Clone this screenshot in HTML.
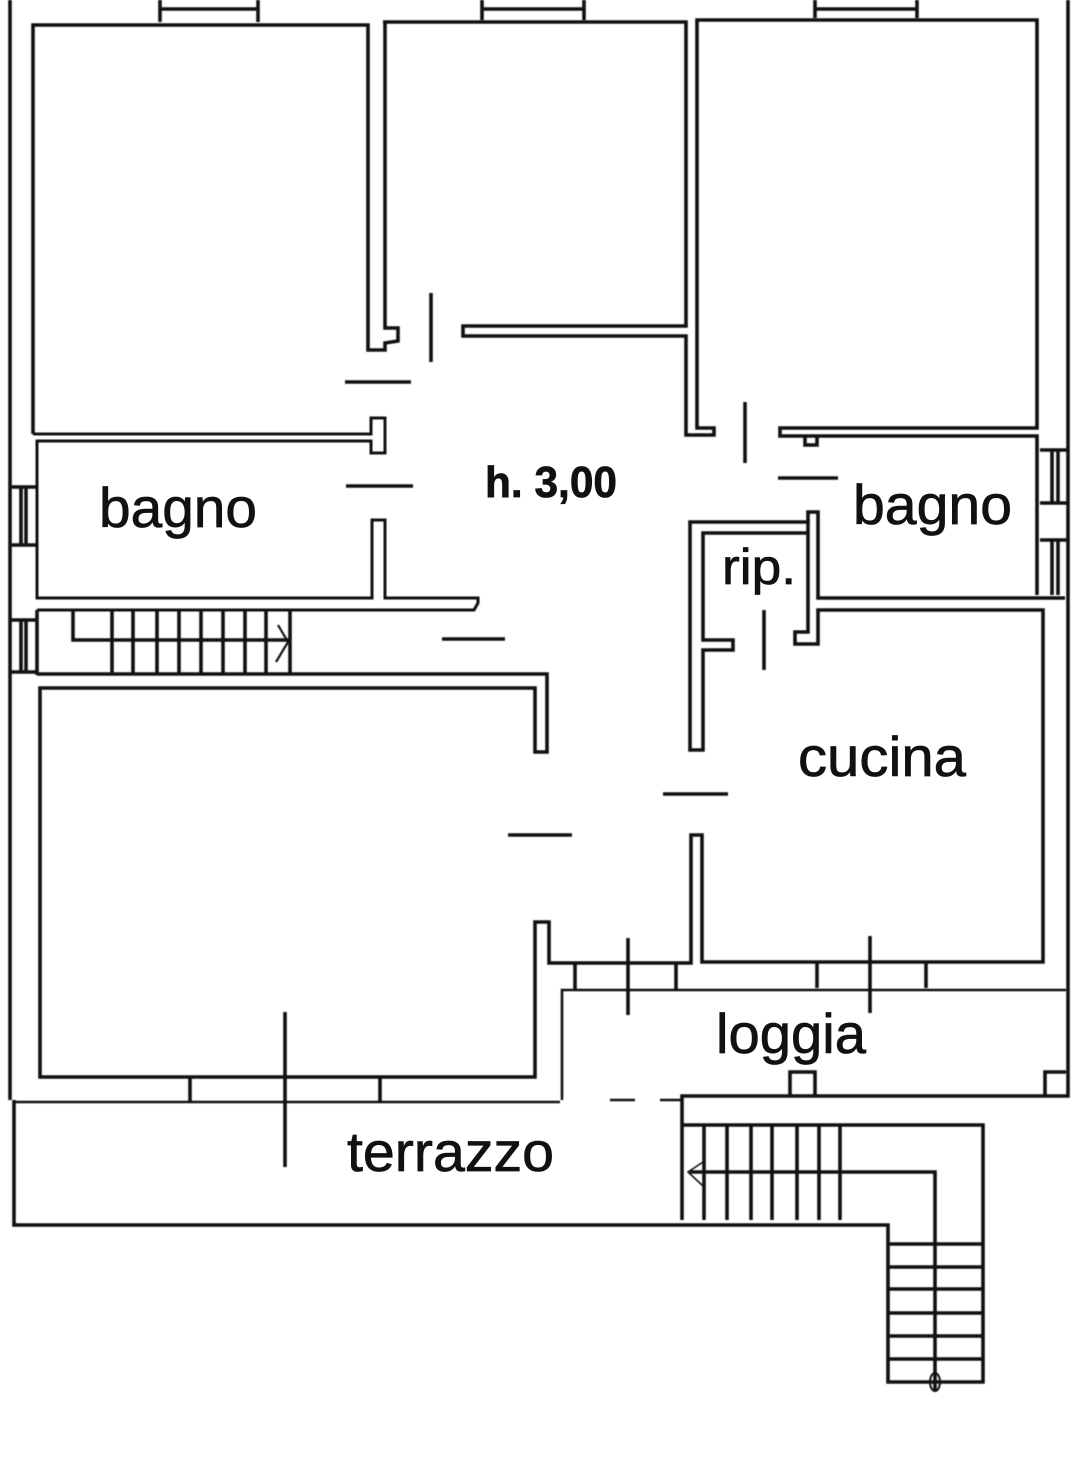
<!DOCTYPE html>
<html lang="it"><head><meta charset="utf-8"><title>Planimetria</title>
<style>
html,body{margin:0;padding:0;background:#fff;width:1072px;height:1476px;overflow:hidden}
svg{display:block}
text{font-family:"Liberation Sans",sans-serif;fill:#111;stroke:#111;stroke-width:.7px}
</style></head><body>
<svg width="1072" height="1476" viewBox="0 0 1072 1476" xmlns="http://www.w3.org/2000/svg">
<rect width="1072" height="1476" fill="#fff"/>
<g fill="none" stroke="#111" stroke-width="3.6" stroke-linejoin="miter" style="filter:blur(.5px)">
<!-- outer -->
<path d="M10 0V1100M14 1100V1225H888V1382H983V1125H682M1068 0V1096H682V1220M160 0V22M258 0V22M482 0V20M584 0V20M815 0V18M917 0V18M160 9H258M482 9H584M815 9H917"/>
<!-- room 1 -->
<path d="M33 434V25H368V350H385V343L398 341V328H385V22"/>
<path d="M33 434H371V418H385V453H371V441H37V598H372V520H385V598H478V603L474 610H37" stroke-width="3"/>
<!-- room 2/3 -->
<path d="M383 22H686V326H463V336H686V435H714V428H697V20H1037V428H780V436H1037V595M805 437V445H817V437"/>
<!-- left windows -->
<path d="M10 487H37M10 545H37M21 487V545M26 487V545M10 620H37M10 672H37M21 620V672M26 620V672"/>
<!-- upper stairs -->
<path d="M37 610V675M73 610V640H290M112 610V673M133 610V673M157 610V673M179 610V673M201 610V673M223 610V673M245 610V673M266 610V673M290 610V673M37 674H547V752H535V688H40V1077H535V922H549V963H691V835H702V962H1043V610H818V644H795V632H808V522H690V750H703V650H733V640H703V533H808"/>
<path d="M808 522V512H818V598H1065"/>
<path d="M278 625L288 642L276 662" stroke-width="2.2"/>
<!-- right windows -->
<path d="M1040 450H1068M1040 503H1068M1052 450V503M1058 450V503M1040 540H1068M1052 540V595M1058 540V595"/>
<!-- window ticks and loggia -->
<path d="M575 963V990M676 963V990M817 963V988M926 963V988M190 1077V1102M380 1077V1102"/>
<path d="M562 1100V990H1066M14 1102H560M610 1100H635M660 1100H682" stroke-width="2.6"/>
<path d="M790 1096V1072H815V1096M1045 1096V1072H1066"/>
<!-- door swings -->
<path d="M345 382H411M346 486H413M431 293V362M745 402V463M778 478H838M442 639H505M663 794H728M508 835H572M764 610V670M628 938V1015M870 936V1013M285 1012V1167"/>
<!-- lower stairs -->
<path d="M704 1125V1220M727 1125V1220M751 1125V1220M772 1125V1220M797 1125V1220M819 1125V1220M840 1125V1220"/>
<path d="M888 1244H983M888 1267H983M888 1289H983M888 1313H983M888 1336H983M888 1359H983"/>
<path d="M690 1172H935V1390"/>
<path d="M703 1162L688 1172L703 1186" stroke-width="1.6"/>
<ellipse cx="935" cy="1382" rx="5" ry="9" stroke-width="2"/>
</g>
<text x="99" y="527" font-size="56" textLength="158" lengthAdjust="spacingAndGlyphs">bagno</text>
<text x="853" y="524" font-size="56" textLength="159" lengthAdjust="spacingAndGlyphs">bagno</text>
<text x="485" y="497" font-size="44" font-weight="bold" textLength="132" lengthAdjust="spacingAndGlyphs">h. 3,00</text>
<text x="722" y="584" font-size="50" textLength="74" lengthAdjust="spacingAndGlyphs">rip.</text>
<text x="798" y="776" font-size="56" textLength="168" lengthAdjust="spacingAndGlyphs">cucina</text>
<text x="716" y="1053" font-size="56" textLength="150" lengthAdjust="spacingAndGlyphs">loggia</text>
<text x="347" y="1171" font-size="56" textLength="207" lengthAdjust="spacingAndGlyphs">terrazzo</text>
</svg>
</body></html>
